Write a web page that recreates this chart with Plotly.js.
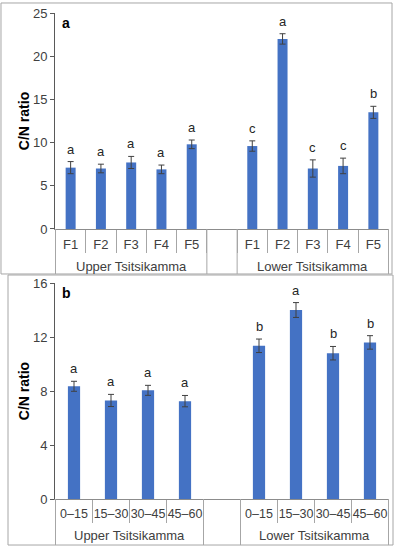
<!DOCTYPE html>
<html>
<head>
<meta charset="utf-8">
<script src="https://cdn.plot.ly/plotly-3.0.1.min.js"></script>
<style>html,body{margin:0;padding:0;background:#fff;}</style>
</head>
<body>
<div id="chart" style="width:399px;height:550px;"></div>
<script>
// Panel a: sites
const groupsA = ["Upper Tsitsikamma","Upper Tsitsikamma","Upper Tsitsikamma","Upper Tsitsikamma","Upper Tsitsikamma","","Lower Tsitsikamma","Lower Tsitsikamma","Lower Tsitsikamma","Lower Tsitsikamma","Lower Tsitsikamma"];
const sitesA = ["F1","F2","F3","F4","F5","","F1","F2","F3","F4","F5"];
const valuesA = [7.1, 7.0, 7.7, 6.9, 9.8, null, 9.6, 22.0, 7.0, 7.3, 13.5];
const errorsA = [0.7, 0.5, 0.7, 0.5, 0.5, null, 0.6, 0.6, 1.0, 0.9, 0.7];
const lettersA = ["a","a","a","a","a","","c","a","c","c","b"];

// Panel b: depths
const groupsB = ["Upper Tsitsikamma","Upper Tsitsikamma","Upper Tsitsikamma","Upper Tsitsikamma","","Lower Tsitsikamma","Lower Tsitsikamma","Lower Tsitsikamma","Lower Tsitsikamma"];
const depthsB = ["0–15","15–30","30–45","45–60","","0–15","15–30","30–45","45–60"];
const valuesB = [8.35, 7.3, 8.05, 7.25, null, 11.35, 14.0, 10.8, 11.6];
const errorsB = [0.37, 0.45, 0.37, 0.42, null, 0.5, 0.55, 0.5, 0.5];
const lettersB = ["a","a","a","a","","b","a","b","b"];

const barColor = "#4472C4";
const FAM = "Liberation Sans, Arial, sans-serif";
const TXT = "#404040";
const SEP = "#a6a6a6";

function keys(groups, cats){ return groups.map((g,i)=> (g||"gap") + "|" + (cats[i]||"gap")); }

function letterAnnotations(values, errors, letters, xref, yref){
  const out = [];
  values.forEach((v,i)=>{
    if(v==null || !letters[i]) return;
    out.push({text:letters[i], xref:xref, yref:yref, x:i, y:v+errors[i], yanchor:"bottom", yshift:3,
      showarrow:false, font:{family:FAM, size:13, color:"#262626"}});
  });
  return out;
}

// group labels centred under their categories
function groupAnnotations(groups, xref, ypaper){
  const out = [];
  const seen = {};
  groups.forEach((g,i)=>{ if(!g) return; (seen[g] = seen[g] || []).push(i); });
  Object.keys(seen).forEach(g=>{
    const idx = seen[g];
    out.push({text:g, xref:xref, yref:"paper", x:(idx[0]+idx[idx.length-1])/2, y:ypaper, yanchor:"middle",
      showarrow:false, font:{family:FAM, size:13, color:TXT}});
  });
  return out;
}

// full-depth dividers at group boundaries (axis decoration)
function dividerShapes(groups, xref, y0, y1){
  const b = [-0.5];
  for(let i=1;i<groups.length;i++){ if(groups[i]!==groups[i-1]) b.push(i-0.5); }
  b.push(groups.length-0.5);
  return b.map(x=>({type:"line", xref:xref, yref:"paper", x0:x, x1:x, y0:y0, y1:y1, line:{color:SEP, width:1}}));
}

const traces = [
  {type:"bar", x:keys(groupsA, sitesA), y:valuesA, xaxis:"x", yaxis:"y",
   marker:{color:barColor}, error_y:{type:"data", array:errorsA, color:"#404040", thickness:1, width:3}, hoverinfo:"none"},
  {type:"bar", x:keys(groupsB, depthsB), y:valuesB, xaxis:"x2", yaxis:"y2",
   marker:{color:barColor}, error_y:{type:"data", array:errorsB, color:"#404040", thickness:1, width:3}, hoverinfo:"none"}
];

const xCommon = {type:"category", showline:true, linecolor:"#8c8c8c", linewidth:1, tickangle:0,
  ticks:"outside", tickson:"boundaries", ticklen:23, tickcolor:SEP, ticklabelstandoff:3,
  showgrid:false, zeroline:false, fixedrange:true};
const yCommon = {showline:true, linecolor:"#595959", linewidth:1, ticks:"outside", ticklen:4, tickcolor:"#595959",
  tickfont:{family:FAM, size:13, color:TXT}, showgrid:false, zeroline:false,
  title:{text:"<b>C/N ratio</b>", font:{family:FAM, size:14, color:"#000"}, standoff:0}};

const boxLine = {color:SEP, width:1};
const layout = {
  width:399, height:550, margin:{l:55, r:10, t:13, b:51},
  paper_bgcolor:"#fff", plot_bgcolor:"#fff", showlegend:false, bargap:0.67,
  font:{family:FAM},
  xaxis: Object.assign({}, xCommon, {anchor:"y", domain:[0,1],
    tickmode:"array", tickvals:keys(groupsA, sitesA), ticktext:sitesA, tickfont:{family:FAM, size:13, color:TXT}}),
  yaxis: Object.assign({}, yCommon, {anchor:"x", domain:[0.5556,1], range:[0,25], dtick:5}),
  xaxis2: Object.assign({}, xCommon, {anchor:"y2", domain:[0,1],
    tickmode:"array", tickvals:keys(groupsB, depthsB), ticktext:depthsB, tickfont:{family:FAM, size:12.5, color:TXT}}),
  yaxis2: Object.assign({}, yCommon, {anchor:"x2", domain:[0,0.4444], range:[0,16], dtick:4}),
  annotations:[
    {text:"<b>a</b>", xref:"paper", yref:"paper", x:0.015, y:1.0, xanchor:"left", yanchor:"top", showarrow:false,
     font:{family:FAM, size:14, color:"#000"}},
    {text:"<b>b</b>", xref:"paper", yref:"paper", x:0.015, y:0.4444, xanchor:"left", yanchor:"top", showarrow:false,
     font:{family:FAM, size:14, color:"#000"}}
  ].concat(letterAnnotations(valuesA, errorsA, lettersA, "x", "y"))
   .concat(letterAnnotations(valuesB, errorsB, lettersB, "x2", "y2"))
   .concat(groupAnnotations(groupsA, "x", 0.4794))
   .concat(groupAnnotations(groupsB, "x2", -0.0761)),
  shapes:[
    {type:"rect", xref:"paper", yref:"paper", x0:-0.1617, x1:1.009, y0:0.463, y1:1.0206, line:boxLine},
    {type:"rect", xref:"paper", yref:"paper", x0:-0.1407, x1:1.012, y0:-0.0947, y1:0.4609, line:boxLine}
  ].concat(dividerShapes(groupsA, "x", 0.463, 0.5556))
   .concat(dividerShapes(groupsB, "x2", -0.0947, 0))
};

Plotly.newPlot("chart", traces, layout, {staticPlot:true, displayModeBar:false});
</script>
</body>
</html>
